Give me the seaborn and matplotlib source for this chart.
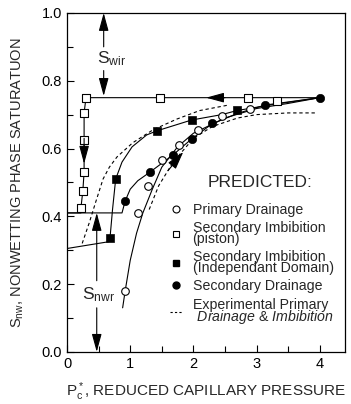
import numpy as np
import pandas as pd
import seaborn as sns
import matplotlib.pyplot as plt
from matplotlib.lines import Line2D

# Primary drainage (predicted) - open circles and curve
prim_x = [0.92, 1.12, 1.28, 1.50, 1.77, 2.07, 2.46, 2.90]
prim_y = [0.18, 0.41, 0.49, 0.565, 0.61, 0.655, 0.695, 0.717]
prim_line_x = [0.88, 0.92, 1.00, 1.10, 1.20, 1.35, 1.50, 1.75, 2.00, 2.50, 3.00, 3.50, 4.00]
prim_line_y = [0.13, 0.18, 0.27, 0.35, 0.41, 0.48, 0.545, 0.605, 0.645, 0.69, 0.718, 0.733, 0.75]

# Secondary imbibition (piston) - open squares
pist_x = [0.30, 0.27, 0.27, 0.27, 0.25, 0.22, 1.47, 2.86, 3.32]
pist_y = [0.75, 0.705, 0.625, 0.53, 0.475, 0.425, 0.75, 0.75, 0.74]
pist_line_x = [4.00, 0.30, 0.27, 0.27, 0.27, 0.25, 0.22, 0.22, 0.00]
pist_line_y = [0.75, 0.75, 0.705, 0.625, 0.53, 0.475, 0.425, 0.41, 0.41]

# Secondary imbibition (independant domain) - filled squares
ind_x = [0.68, 0.77, 1.42, 1.97, 2.69]
ind_y = [0.336, 0.51, 0.652, 0.685, 0.713]
ind_line_x = [0.00, 0.66, 0.68, 0.72, 0.77, 0.87, 1.03, 1.26, 1.42, 1.97, 2.45, 2.69, 3.20, 4.00]
ind_line_y = [0.305, 0.325, 0.336, 0.42, 0.51, 0.56, 0.605, 0.64, 0.652, 0.684, 0.70, 0.712, 0.728, 0.75]

# Secondary drainage - filled circles
sec_x = [0.92, 1.31, 1.67, 1.97, 2.29, 3.13, 4.00]
sec_y = [0.445, 0.53, 0.58, 0.628, 0.675, 0.729, 0.75]
sec_line_x = [0.00, 0.87, 0.92, 1.00, 1.12, 1.31, 1.67, 1.97, 2.29, 2.69, 3.13, 4.00]
sec_line_y = [0.41, 0.41, 0.445, 0.48, 0.505, 0.53, 0.58, 0.628, 0.672, 0.703, 0.728, 0.75]

# Experimental curves (dashed)
exp_imb_x = [0.24, 0.35, 0.45, 0.57, 0.67, 0.79, 1.04, 1.36, 1.74, 2.10, 2.55]
exp_imb_y = [0.32, 0.38, 0.44, 0.51, 0.545, 0.575, 0.617, 0.655, 0.687, 0.712, 0.728]
exp_dr_x = [1.30, 1.45, 1.68, 2.00, 2.30, 2.70, 3.00, 3.50, 3.95]
exp_dr_y = [0.42, 0.49, 0.56, 0.63, 0.665, 0.69, 0.70, 0.705, 0.705]

sns.set_style("ticks")
plt.rcParams['font.family'] = ['Liberation Sans', 'DejaVu Sans']
plt.rcParams['mathtext.fontset'] = 'custom'
plt.rcParams['mathtext.rm'] = 'Liberation Sans'
plt.rcParams['mathtext.it'] = 'Liberation Sans:italic'

fig, ax = plt.subplots(figsize=(3.51, 4.04), dpi=100)
fig.subplots_adjust(left=0.191, right=0.983, top=0.968, bottom=0.129)

lw = 0.8
kw = dict(sort=False, estimator=None, color='black', linewidth=lw, ax=ax, legend=False)
sns.lineplot(x=prim_line_x, y=prim_line_y, **kw)
sns.lineplot(x=pist_line_x, y=pist_line_y, **kw)
sns.lineplot(x=ind_line_x, y=ind_line_y, **kw)
sns.lineplot(x=sec_line_x, y=sec_line_y, **kw)
ax.plot(exp_imb_x, exp_imb_y, color='black', lw=lw, ls=(0, (3, 2.5)))
ax.plot(exp_dr_x, exp_dr_y, color='black', lw=lw, ls=(0, (3, 2.5)))

sns.scatterplot(x=prim_x, y=prim_y, marker='o', s=30, facecolor='white', edgecolor='black', linewidth=0.8, ax=ax, zorder=3)
sns.scatterplot(x=pist_x, y=pist_y, marker='s', s=32, facecolor='white', edgecolor='black', linewidth=0.8, ax=ax, zorder=3)
sns.scatterplot(x=ind_x, y=ind_y, marker='s', s=36, color='black', edgecolor='black', ax=ax, zorder=3)
sns.scatterplot(x=sec_x, y=sec_y, marker='o', s=36, color='black', edgecolor='black', ax=ax, zorder=3)

# direction arrows on curves
aprops = dict(arrowstyle='-|>,head_length=1.1,head_width=0.3', color='black', lw=0.8, shrinkA=0, shrinkB=0)
ax.annotate('', xy=(2.2, 0.75), xytext=(2.5, 0.75), arrowprops=aprops)
ax.annotate('', xy=(0.27, 0.555), xytext=(0.27, 0.63), arrowprops=aprops)
ax.annotate('', xy=(1.84, 0.59), xytext=(1.60, 0.535), arrowprops=aprops)

# S_wir and S_nwr markers
ax.annotate('', xy=(0.58, 1.0), xytext=(0.58, 0.90), arrowprops=aprops)
ax.annotate('', xy=(0.58, 0.755), xytext=(0.58, 0.83), arrowprops=aprops)
ax.text(0.48, 0.865, r'$\mathregular{S_{wir}}$', fontsize=12.5, va='center', ha='left')
ax.annotate('', xy=(0.47, 0.41), xytext=(0.47, 0.21), arrowprops=aprops)
ax.annotate('', xy=(0.47, 0.0), xytext=(0.47, 0.13), arrowprops=aprops)
ax.text(0.24, 0.168, r'$\mathregular{S_{nwr}}$', fontsize=12.5, va='center', ha='left')

ax.set_xlim(0, 4.4)
ax.set_ylim(0, 1.0)
ax.set_xticks([0, 1, 2, 3, 4])
ax.set_xticks(np.arange(0.5, 4.4, 0.5), minor=True)
ax.set_yticks(np.arange(0, 1.01, 0.2))
ax.set_yticks(np.arange(0.1, 1.0, 0.2), minor=True)
ax.yaxis.set_major_formatter(plt.FormatStrFormatter('%.1f'))
ax.tick_params(which='both', direction='in', labelsize=10.5, width=0.8, colors='black')
ax.tick_params(which='major', length=5)
ax.tick_params(which='minor', length=4)
for s in ax.spines.values():
    s.set_visible(True)
    s.set_linewidth(0.9)
    s.set_color('black')

ax.set_xlabel(r'$\mathregular{P_c^*}$, REDUCED CAPILLARY PRESSURE', fontsize=11, labelpad=7)
ax.set_ylabel(r'$\mathregular{S_{nw}}$, NONWETTING PHASE SATURATUON', fontsize=10.5, labelpad=11)

ax.text(0.505, 0.50, 'PREDICTED:', transform=ax.transAxes, fontsize=12.5, va='center', ha='left')
handles = [
    Line2D([], [], ls='none', marker='o', ms=5, mfc='white', mec='black', mew=0.8),
    Line2D([], [], ls='none', marker='s', ms=5, mfc='white', mec='black', mew=0.8),
    Line2D([], [], ls='none', marker='s', ms=5, mfc='black', mec='black'),
    Line2D([], [], ls='none', marker='o', ms=5, mfc='black', mec='black'),
    Line2D([], [], color='black', lw=0.8, ls=(0, (2, 2))),
]
labels = ['Primary Drainage', 'Secondary Imbibition\n(piston)',
          'Secondary Imbibition\n(Independant Domain)', 'Secondary Drainage',
          'Experimental Primary\n $\\mathit{Drainage}$ & $\\mathit{Imbibition}$']
leg = ax.legend(handles, labels, loc='upper left', bbox_to_anchor=(0.37, 0.44),
                frameon=False, fontsize=10.2, handlelength=0.9, handletextpad=0.7,
                borderpad=0, borderaxespad=0, labelspacing=0.3)
for t in leg.get_texts():
    t.set_linespacing(0.72)

fig.savefig('out.png', dpi=100)
